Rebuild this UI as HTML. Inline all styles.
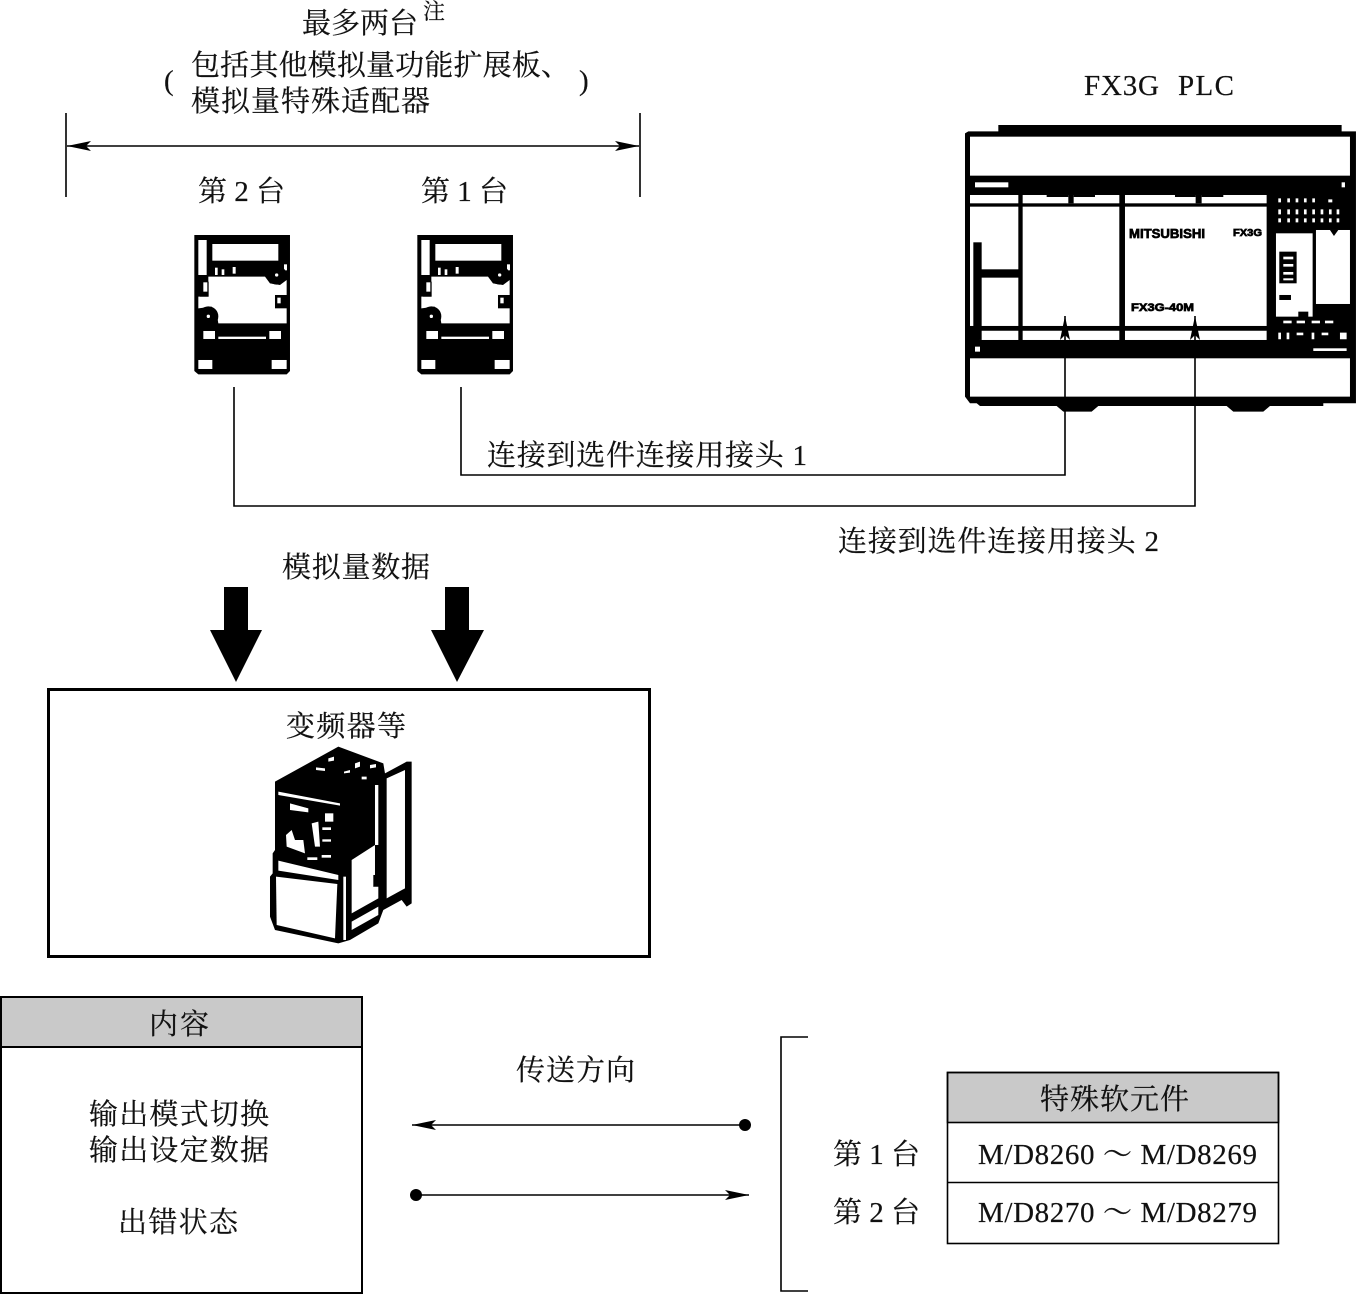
<!DOCTYPE html>
<html><head><meta charset="utf-8"><style>
html,body{margin:0;padding:0;background:#fff}
svg{display:block}
text{font-family:"Liberation Serif","Noto Serif CJK SC",serif;font-size:29px;fill:#111;stroke:#111;stroke-width:.2px}
text.p{font-family:"Liberation Sans",sans-serif;font-weight:bold;fill:#000;stroke:#000;stroke-width:.7px}
</style></head><body>
<svg width="1356" height="1294" viewBox="0 0 1356 1294" xmlns="http://www.w3.org/2000/svg">
<defs>
<g id="mod" transform="scale(.3333)">
<path d="M43 30H330V438L320 448H55L43 438Z" fill="#000"/>
<g fill="#fff">
<rect x="55" y="45" width="25" height="105"/>
<rect x="97" y="57" width="198" height="50"/>
<path d="M90 155H255L270 175L300 180L320 165V295H115L110 265L95 245L55 250V215H85V155Z"/>
<rect x="70" y="318" width="35" height="24"/>
<rect x="268" y="318" width="35" height="24"/>
<rect x="115" y="335" width="143" height="7"/>
<rect x="55" y="405" width="42" height="27"/>
<rect x="275" y="405" width="45" height="27"/>
<rect x="105" y="128" width="8" height="22"/><rect x="125" y="133" width="8" height="17"/><rect x="158" y="126" width="9" height="20"/><rect x="312" y="118" width="9" height="18"/>
</g>
<rect x="60" y="170" width="26" height="45" fill="#000"/><rect x="70" y="172" width="12" height="28" fill="#fff"/>
<rect x="285" y="210" width="36" height="40" fill="#000"/><rect x="292" y="218" width="10" height="17" fill="#fff"/>
<circle cx="85" cy="274" r="30" fill="#000"/><circle cx="85" cy="274" r="5" fill="#fff"/>
<circle cx="290" cy="150" r="29" fill="#000"/><circle cx="290" cy="150" r="5" fill="#fff"/>
</g>
<marker id="a" viewBox="0 0 24 10" refX="24" refY="5" markerWidth="24" markerHeight="10" markerUnits="userSpaceOnUse" orient="auto-start-reverse"><path d="M0 0L24 5L0 10L5 5Z" fill="#000"/></marker>
</defs>

<!-- top text -->
<text x="302" y="33" textLength="116">最多两台</text>
<text x="423" y="19" style="font-size:22px">注</text>
<text x="164" y="90">(</text>
<text x="191" y="75" textLength="379">包括其他模拟量功能扩展板、</text>
<text x="191" y="111" textLength="239">模拟量特殊适配器</text>
<text x="579" y="90">)</text>
<text x="1084" y="95" textLength="75">FX3G</text>
<text x="1178" y="95" textLength="56">PLC</text>

<path d="M66 113V197M640 113V197" stroke="#000" stroke-width="1.6" fill="none"/>
<line x1="67" y1="146" x2="639" y2="146" stroke="#000" stroke-width="1.6" marker-start="url(#a)" marker-end="url(#a)"/>
<text x="198" y="201" textLength="87">第 2 台</text>
<text x="421" y="201" textLength="87">第 1 台</text>

<use href="#mod" x="180" y="225"/>
<use href="#mod" x="403" y="225"/>

<!-- PLC -->
<g transform="translate(950,110) scale(.3333)">
<path d="M145 45H1175V64H1218V880H1120V888H960L940 905H850L830 888H445L425 905H340L320 888H90L80 880H60L45 860V70L55 64H145Z" fill="#000"/>
<g fill="#fff">
<rect x="60" y="80" width="1140" height="117"/>
<rect x="60" y="745" width="1140" height="115"/>
<rect x="75" y="217" width="100" height="15"/>
<rect x="1175" y="217" width="10" height="15"/>
<rect x="60" y="255" width="145" height="25"/>
<rect x="218" y="255" width="290" height="25"/>
<rect x="525" y="255" width="425" height="25"/>
<rect x="60" y="290" width="145" height="358"/>
<rect x="218" y="290" width="290" height="358"/>
<rect x="525" y="290" width="425" height="358"/>
<rect x="88" y="662" width="117" height="28"/>
<rect x="218" y="662" width="290" height="28"/>
<rect x="525" y="662" width="425" height="28"/>
<rect x="978" y="370" width="110" height="250"/>
<rect x="1098" y="360" width="102" height="222"/>
<rect x="75" y="710" width="15" height="15"/>
<rect x="1090" y="715" width="100" height="8"/>
</g>
<g fill="#000">
<rect x="290" y="255" width="65" height="6"/><rect x="355" y="255" width="16" height="25"/><rect x="371" y="255" width="64" height="6"/>
<rect x="675" y="255" width="62" height="6"/><rect x="737" y="255" width="18" height="25"/><rect x="755" y="255" width="65" height="6"/>
<rect x="70" y="397" width="25" height="293"/>
<rect x="90" y="478" width="120" height="25"/>
<rect x="60" y="648" width="890" height="14"/>
<rect x="988" y="425" width="52" height="95"/>
<rect x="988" y="555" width="35" height="15"/>
<rect x="988" y="622" width="200" height="28"/>
<rect x="1045" y="605" width="30" height="20"/>
<path d="M1140 360H1165L1152 378Z"/>
</g>
<g fill="#fff">
<rect x="1000" y="440" width="30" height="8"/><rect x="1000" y="462" width="30" height="8"/><rect x="1000" y="486" width="30" height="8"/><rect x="1000" y="505" width="30" height="6"/>
<rect x="1000" y="632" width="25" height="8"/><rect x="1040" y="632" width="25" height="8"/><rect x="1085" y="632" width="25" height="8"/><rect x="1125" y="632" width="25" height="8"/>
<path d="M985 265h8v12h-8zM1012 265h8v12h-8zM1037 265h8v12h-8zM1062 265h8v12h-8zM1087 265h8v12h-8zM1135 268h12v9h-12zM985 298h8v15h-8zM1012 298h8v15h-8zM1037 298h8v15h-8zM1062 298h8v15h-8zM1087 298h8v15h-8zM1112 298h8v15h-8zM1137 298h8v15h-8zM1160 298h8v15h-8zM985 325h8v12h-8zM1012 325h8v12h-8zM1037 325h8v12h-8zM1062 325h8v12h-8zM1087 325h8v12h-8zM1112 325h8v12h-8zM1137 325h8v12h-8zM1160 325h8v12h-8zM985 668h8v20h-8zM1010 668h8v20h-8zM1040 668h20v8h-20zM1085 668h8v20h-8zM1115 668h20v8h-20zM1170 668h20v20h-20z"/>
</g>
</g>
<text class="p" x="1129" y="238" style="font-size:13px" textLength="76" lengthAdjust="spacingAndGlyphs">MITSUBISHI</text>
<text class="p" x="1233" y="236" style="font-size:10px" textLength="29" lengthAdjust="spacingAndGlyphs">FX3G</text>
<text class="p" x="1131" y="311" style="font-size:11px" textLength="63" lengthAdjust="spacingAndGlyphs">FX3G-40M</text>

<!-- connectors -->
<path d="M461 387V475H1065V316" fill="none" stroke="#000" stroke-width="1.6" marker-end="url(#a)"/>
<path d="M234 387V506H1195V316" fill="none" stroke="#000" stroke-width="1.6" marker-end="url(#a)"/>
<text x="487" y="465" textLength="320">连接到选件连接用接头 1</text>
<text x="838" y="551" textLength="321">连接到选件连接用接头 2</text>
<text x="282" y="577" textLength="148">模拟量数据</text>

<path d="M224 587H248V630H262L236 682L210 630H224Z" fill="#000"/>
<path d="M445 587H469V630H484L457 682L431 630H445Z" fill="#000"/>

<rect x="48.500" y="689.500" width="601" height="267" fill="none" stroke="#000" stroke-width="3"/>
<text x="286" y="736" textLength="120">变频器等</text>

<!-- inverter -->
<g transform="translate(250,740) scale(.3333)">
<path d="M75 125L265 20L400 70L405 100L470 65H485V490L470 500L455 480L400 510L385 550L300 600L265 610L75 570L60 530V410L68 400V340L75 330Z" fill="#000"/>
<g fill="#fff">
<path d="M410 115L465 90V445L410 475Z"/>
<path d="M305 360L375 315V410L370 440H385V475L305 520Z"/>
<path d="M78 410L262 432L255 595L80 555Z"/>
<path d="M85 362L265 405V420L85 392Z"/>
<path d="M85 155L270 190V197L85 165Z"/>
<path d="M120 190L175 205V217L120 210Z"/>
<path d="M108 285L125 270L135 300L160 300L165 340L110 320Z"/>
<path d="M185 250L205 245L210 320L195 320Z"/>
<rect x="217" y="262" width="26" height="8"/><rect x="217" y="298" width="26" height="7"/><rect x="225" y="220" width="25" height="25"/>
<rect x="172" y="352" width="30" height="8"/><rect x="215" y="345" width="28" height="8"/>
<path d="M198 82L225 85V93L198 90ZM235 55L252 50V62L235 65ZM282 95L300 90V98L282 100ZM315 70L330 65V80L315 85ZM360 75L378 72V82L360 85ZM335 110L350 110V118L335 118Z"/>
<rect x="375" y="135" width="10" height="180"/>
<rect x="280" y="410" width="8" height="190"/>
<path d="M305 545L385 500V525L305 570Z"/>
</g>
<rect x="370" y="405" width="20" height="35" fill="#000"/>
</g>

<!-- left table -->
<rect x="1" y="997" width="361" height="50" fill="#c9c9c9" stroke="#000" stroke-width="2"/>
<rect x="1" y="997" width="361" height="296" fill="none" stroke="#000" stroke-width="2"/>
<text x="149" y="1034" textLength="60">内容</text>
<text x="89" y="1124" textLength="180">输出模式切换</text>
<text x="89" y="1160" textLength="180">输出设定数据</text>
<text x="118" y="1232" textLength="120">出错状态</text>

<text x="516" y="1080" textLength="119">传送方向</text>
<line x1="745" y1="1125" x2="412" y2="1125" stroke="#000" stroke-width="1.6" marker-end="url(#a)"/>
<circle cx="745" cy="1125" r="6" fill="#000"/>
<line x1="416" y1="1195" x2="749" y2="1195" stroke="#000" stroke-width="1.6" marker-end="url(#a)"/>
<circle cx="416" cy="1195" r="6" fill="#000"/>

<path d="M808 1037H781V1291H808" fill="none" stroke="#000" stroke-width="1.6"/>
<text x="833" y="1164" textLength="87">第 1 台</text>
<text x="833" y="1222" textLength="87">第 2 台</text>

<!-- right table -->
<rect x="947.500" y="1072.500" width="331" height="50" fill="#c9c9c9" stroke="#000" stroke-width="1.600"/>
<rect x="947.500" y="1072.500" width="331" height="171" fill="none" stroke="#000" stroke-width="1.600"/>
<line x1="947" y1="1182.500" x2="1279" y2="1182.500" stroke="#000" stroke-width="1.600"/>
<text x="1040" y="1109" textLength="149">特殊软元件</text>
<text x="978" y="1164" textLength="279">M/D8260 ～ M/D8269</text>
<text x="978" y="1222" textLength="279">M/D8270 ～ M/D8279</text>
</svg>
</body></html>
